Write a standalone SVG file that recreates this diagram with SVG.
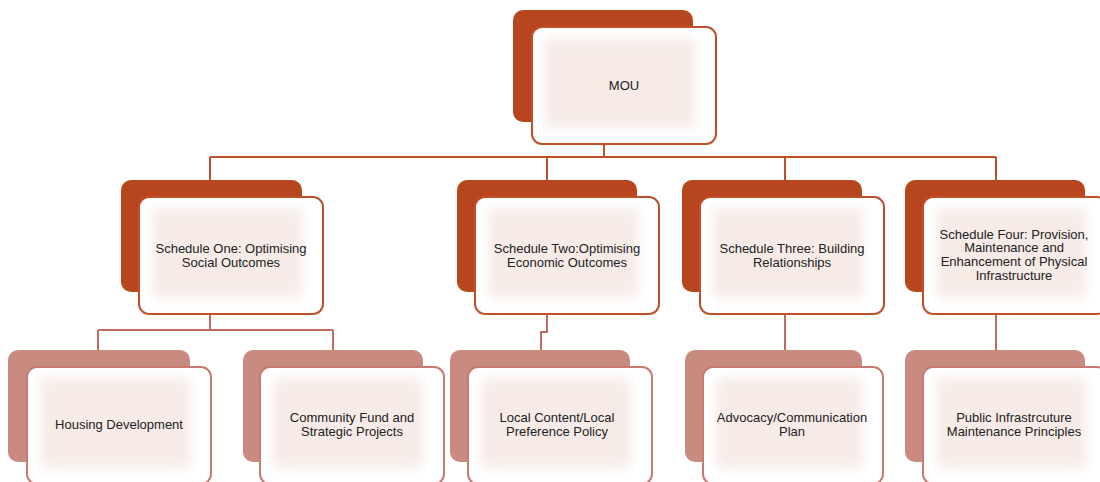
<svg xmlns="http://www.w3.org/2000/svg" width="1100" height="482" viewBox="0 0 1100 482">
<defs>
<filter id="soft" x="-10%" y="-10%" width="120%" height="120%"><feGaussianBlur stdDeviation="6"/></filter>
<style>
.bk1{fill:#b7461e}
.fr1{fill:#ffffff;stroke:#c0502a;stroke-width:2}
.bk2{fill:#c98a80}
.fr2{fill:#ffffff;stroke:#c97a70;stroke-width:2}
.in{fill:#f6ebe7;filter:url(#soft)}
.c1{fill:none;stroke:#c0502a;stroke-width:2}
.c2{fill:none;stroke:#c46a5e;stroke-width:2}
text{font-family:"Liberation Sans",Arial,sans-serif;font-size:13px;fill:#222;text-anchor:middle}
</style>
</defs>
<rect width="1100" height="482" fill="#fff"/>
<g id="connectors">
<path class="c1" d="M604 144V157M210 157H996M210 157V180M547 157V180M785 157V180M996 157V180"/>
<path class="c2" d="M210 314V330M98 330H333M98 330V350M333 330V350M547 314V332H541V350M785 314V350M996 314V350"/>
</g>
<g id="mou">
<rect class="bk1" x="513" y="10" width="180" height="112" rx="10"/>
<rect class="fr1" x="532" y="27" width="184" height="117" rx="10"/>
<rect class="in" x="545" y="38" width="150" height="90" rx="6"/>
<text x="624" y="90">MOU</text>
</g>
<g id="s1">
<rect class="bk1" x="121" y="180" width="181" height="112" rx="10"/>
<rect class="fr1" x="139" y="197" width="184" height="117" rx="10"/>
<rect class="in" x="152" y="208" width="150" height="90" rx="6"/>
<text x="231" y="253">Schedule One: Optimising</text>
<text x="231" y="267">Social Outcomes</text>
</g>
<g id="s2">
<rect class="bk1" x="457" y="180" width="180" height="112" rx="10"/>
<rect class="fr1" x="475" y="197" width="184" height="117" rx="10"/>
<rect class="in" x="488" y="208" width="150" height="90" rx="6"/>
<text x="567" y="253">Schedule Two:Optimising</text>
<text x="567" y="267">Economic Outcomes</text>
</g>
<g id="s3">
<rect class="bk1" x="682" y="180" width="180" height="112" rx="10"/>
<rect class="fr1" x="700" y="197" width="184" height="117" rx="10"/>
<rect class="in" x="713" y="208" width="150" height="90" rx="6"/>
<text x="792" y="253">Schedule Three: Building</text>
<text x="792" y="267">Relationships</text>
</g>
<g id="s4">
<rect class="bk1" x="905" y="180" width="180" height="112" rx="10"/>
<rect class="fr1" x="923" y="197" width="184" height="117" rx="10"/>
<rect class="in" x="936" y="208" width="150" height="90" rx="6"/>
<text x="1014" y="239">Schedule Four: Provision,</text>
<text x="1014" y="252">Maintenance and</text>
<text x="1014" y="266">Enhancement of Physical</text>
<text x="1014" y="280">Infrastructure</text>
</g>
<g id="housing">
<rect class="bk2" x="8" y="350" width="182" height="112" rx="10"/>
<rect class="fr2" x="27" y="367" width="184" height="117" rx="10"/>
<rect class="in" x="40" y="378" width="150" height="90" rx="6"/>
<text x="119" y="429">Housing Development</text>
</g>
<g id="community">
<rect class="bk2" x="243" y="350" width="180" height="112" rx="10"/>
<rect class="fr2" x="260" y="367" width="184" height="117" rx="10"/>
<rect class="in" x="273" y="378" width="150" height="90" rx="6"/>
<text x="352" y="422">Community Fund and</text>
<text x="352" y="436">Strategic Projects</text>
</g>
<g id="local">
<rect class="bk2" x="450" y="350" width="180" height="112" rx="10"/>
<rect class="fr2" x="468" y="367" width="184" height="117" rx="10"/>
<rect class="in" x="481" y="378" width="150" height="90" rx="6"/>
<text x="557" y="422">Local Content/Local</text>
<text x="557" y="436">Preference Policy</text>
</g>
<g id="advocacy">
<rect class="bk2" x="685" y="350" width="177" height="112" rx="10"/>
<rect class="fr2" x="703" y="367" width="180" height="117" rx="10"/>
<rect class="in" x="716" y="378" width="146" height="90" rx="6"/>
<text x="792" y="422">Advocacy/Communication</text>
<text x="792" y="436">Plan</text>
</g>
<g id="public">
<rect class="bk2" x="905" y="350" width="180" height="112" rx="10"/>
<rect class="fr2" x="923" y="367" width="184" height="117" rx="10"/>
<rect class="in" x="936" y="378" width="150" height="90" rx="6"/>
<text x="1014" y="422">Public Infrastrcuture</text>
<text x="1014" y="436">Maintenance Principles</text>
</g>
</svg>
